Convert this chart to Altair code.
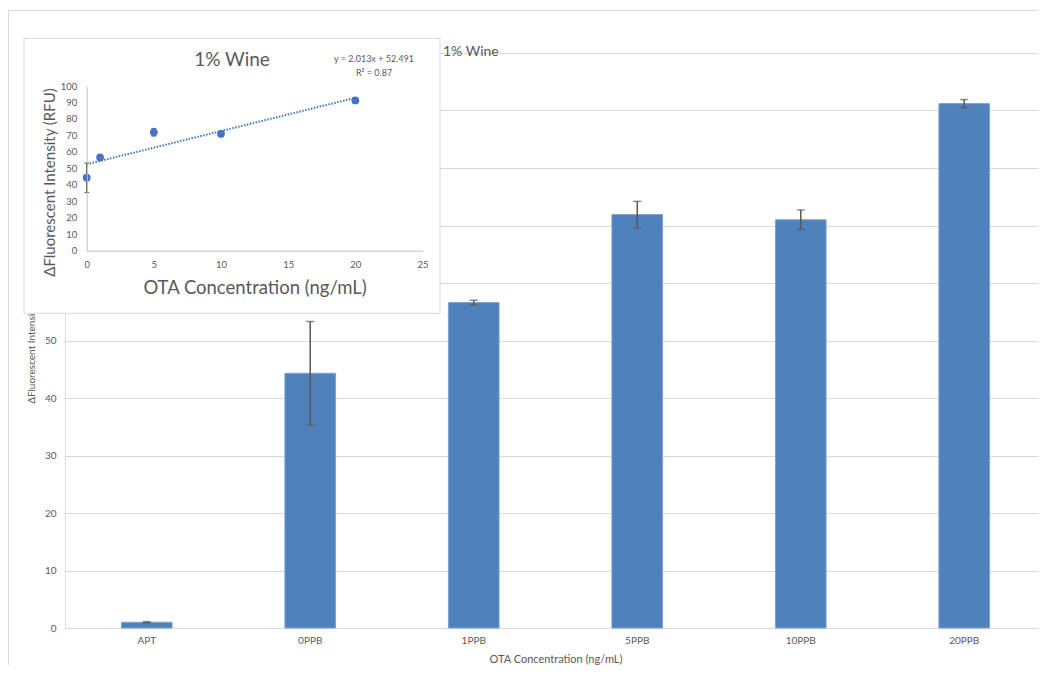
import altair as alt
import pandas as pd

# ---- data ----
categories = ["APT", "0PPB", "1PPB", "5PPB", "10PPB", "20PPB"]
means = [1.0, 44.3, 56.6, 71.9, 71.0, 91.2]
errors = [0.1, 9.0, 0.4, 2.3, 1.7, 0.7]

inset_conc = [0, 1, 5, 10, 20]
inset_means = [44.3, 56.6, 71.9, 71.0, 91.2]
inset_errors = [9.0, 0.4, 2.3, 1.7, 0.7]

main_title = "1% Wine"
inset_title = "1% Wine"
equation_line = "y = 2.013x + 52.491"
r2_line = "R² = 0.87"
y_title = "ΔFluorescent Intensity (RFU)"
x_title = "OTA Concentration (ng/mL)"
inset_x_ticks = [0, 5, 10, 15, 20, 25]
y_ticks = [0, 10, 20, 30, 40, 50, 60, 70, 80, 90, 100]

FONT = "Lato"
GRAY = "#595959"
GRID = "#d9d9d9"

W, H = 973, 575

main_df = pd.DataFrame({"cat": categories, "mean": means, "err": errors})
main_df["lo"] = main_df["mean"] - main_df["err"]
main_df["hi"] = main_df["mean"] + main_df["err"]

inset_df = pd.DataFrame({"conc": inset_conc, "mean": inset_means, "err": inset_errors})
inset_df["lo"] = inset_df["mean"] - inset_df["err"]
inset_df["hi"] = inset_df["mean"] + inset_df["err"]

one = pd.DataFrame({"t": [""]})

# ---- main bar chart ----
xs_main = alt.Scale(range=[0, 981], paddingInner=0.69, paddingOuter=0.345)
x_axis_main = alt.Axis(
    labelAngle=0, ticks=False, domainColor=GRID, labelColor=GRAY, labelFontSize=10,
    labelPadding=7, labelFont=FONT, titleColor=GRAY, titleFontSize=11,
    titleFontWeight="normal", titleFont=FONT, titleY=31, titleBaseline="middle",
)
y_axis_main = alt.Axis(
    values=y_ticks, domain=False, ticks=False, gridColor=GRID,
    labelColor=GRAY, labelFontSize=10, labelPadding=9, labelFont=FONT, labelOverlap=False,
    titleColor=GRAY, titleFontSize=10, titleFontWeight="normal", titleFont=FONT,
    titleX=-34, titleY=287.5, titleBaseline="middle",
)
ys_main = alt.Scale(domain=[0, 100])


def xm():
    return alt.X("cat:N", sort=categories, scale=xs_main, axis=x_axis_main, title=x_title)


def ym(field):
    return alt.Y(field, scale=ys_main, axis=y_axis_main, title=y_title)


bars = alt.Chart(main_df).mark_bar(color="#4F81BD", stroke="#7fa3d3", strokeWidth=1).encode(
    x=xm(), y=ym("mean:Q")
)
err_rule = alt.Chart(main_df).mark_rule(color=GRAY, strokeWidth=1.5).encode(
    x=xm(), y=ym("lo:Q"), y2="hi:Q"
)
err_top = alt.Chart(main_df).mark_tick(color=GRAY, thickness=1.5, size=8).encode(
    x=xm(), y=ym("hi:Q")
)
err_bot = alt.Chart(main_df).mark_tick(color=GRAY, thickness=1.5, size=8).encode(
    x=xm(), y=ym("lo:Q")
)
title_main = alt.Chart(pd.DataFrame({"t": [main_title]})).mark_text(
    align="left", baseline="middle", fontSize=14, color=GRAY, font=FONT
).encode(x=alt.value(378), y=alt.value(-1.5), text="t:N")

frame_left = alt.Chart(one).mark_rule(color=GRID, strokeWidth=1).encode(
    x=alt.value(-56.5), y=alt.value(-42.5), y2=alt.value(H + 40)
)
frame_top = alt.Chart(one).mark_rule(color=GRID, strokeWidth=1).encode(
    x=alt.value(-56.5), x2=alt.value(W + 10), y=alt.value(-42.5)
)

main = alt.layer(bars, err_rule, err_top, err_bot, title_main, frame_left, frame_top)

# ---- inset scatter chart ----
xs_in = alt.Scale(domain=[0, 25], range=[21.7, 357.5], nice=False)
ys_in = alt.Scale(domain=[0, 100], range=[197.7, 33], nice=False)
x_axis_in = alt.Axis(
    orient="bottom", offset=-377.3, values=inset_x_ticks, grid=False, ticks=False,
    domainColor="#bfbfbf", labelColor=GRAY, labelFontSize=9.5, labelPadding=9, labelFont=FONT,
    labelFlush=False, labelOverlap=False,
    titleColor=GRAY, titleFontSize=18.5, titleFontWeight="normal", titleFont=FONT,
    titleY=37, titleBaseline="middle", zindex=1,
)
y_axis_in = alt.Axis(
    orient="left", offset=-21.7, values=y_ticks, grid=False, ticks=False,
    domainColor="#bfbfbf", labelColor=GRAY, labelFontSize=9.5, labelPadding=10, labelFont=FONT,
    labelFlush=False, labelOverlap=False,
    titleColor=GRAY, titleFontSize=15, titleFontWeight="normal", titleFont=FONT,
    titleX=-37, titleY=129, titleBaseline="middle", zindex=1,
)


def xi():
    return alt.X("conc:Q", scale=xs_in, axis=x_axis_in, title=x_title)


def yi(field):
    return alt.Y(field, scale=ys_in, axis=y_axis_in, title=y_title)


box = alt.Chart(one).mark_rect(fill="white", stroke=GRID, strokeWidth=1).encode(
    x=alt.value(-41), x2=alt.value(375), y=alt.value(-14.7), y2=alt.value(260.3)
)
in_err = alt.Chart(inset_df).mark_rule(color="#404040", strokeWidth=1.2).encode(
    x=xi(), y=yi("lo:Q"), y2="hi:Q"
)
in_top = alt.Chart(inset_df).mark_tick(color="#404040", thickness=1.2, size=5, orient="horizontal").encode(
    x=xi(), y=yi("hi:Q")
)
in_bot = alt.Chart(inset_df).mark_tick(color="#404040", thickness=1.2, size=5, orient="horizontal").encode(
    x=xi(), y=yi("lo:Q")
)
trend = alt.Chart(inset_df).transform_regression("conc", "mean").mark_line(
    color="#4472C4", strokeDash=[1.5, 1.5], strokeWidth=2
).encode(x=xi(), y=yi("mean:Q"))
pts = alt.Chart(inset_df).mark_circle(size=60, color="#4472C4", opacity=1).encode(
    x=xi(), y=yi("mean:Q")
)
in_title = alt.Chart(pd.DataFrame({"t": [inset_title]})).mark_text(
    align="center", baseline="middle", fontSize=19, color=GRAY, font=FONT
).encode(x=alt.value(167), y=alt.value(7), text="t:N")
eq1 = alt.Chart(pd.DataFrame({"t": [equation_line]})).mark_text(
    align="center", baseline="middle", fontSize=9, color=GRAY, font=FONT
).encode(x=alt.value(309), y=alt.value(6.3), text="t:N")
eq2 = alt.Chart(pd.DataFrame({"t": [r2_line]})).mark_text(
    align="center", baseline="middle", fontSize=9, color=GRAY, font=FONT
).encode(x=alt.value(309), y=alt.value(19.7), text="t:N")

inset = alt.layer(box, trend, in_err, in_top, in_bot, pts, in_title, eq1, eq2)

chart = (
    alt.layer(main, inset)
    .resolve_scale(x="independent", y="independent")
    .properties(
        width=W, height=H,
        autosize=alt.AutoSizeParams(type="none"),
        padding={"left": 57, "top": 45, "right": 0, "bottom": 37},
    )
    .configure_view(stroke=None)
    .configure(background="white")
)

chart.save("out.html", embed_options={"renderer": "svg", "actions": False})
